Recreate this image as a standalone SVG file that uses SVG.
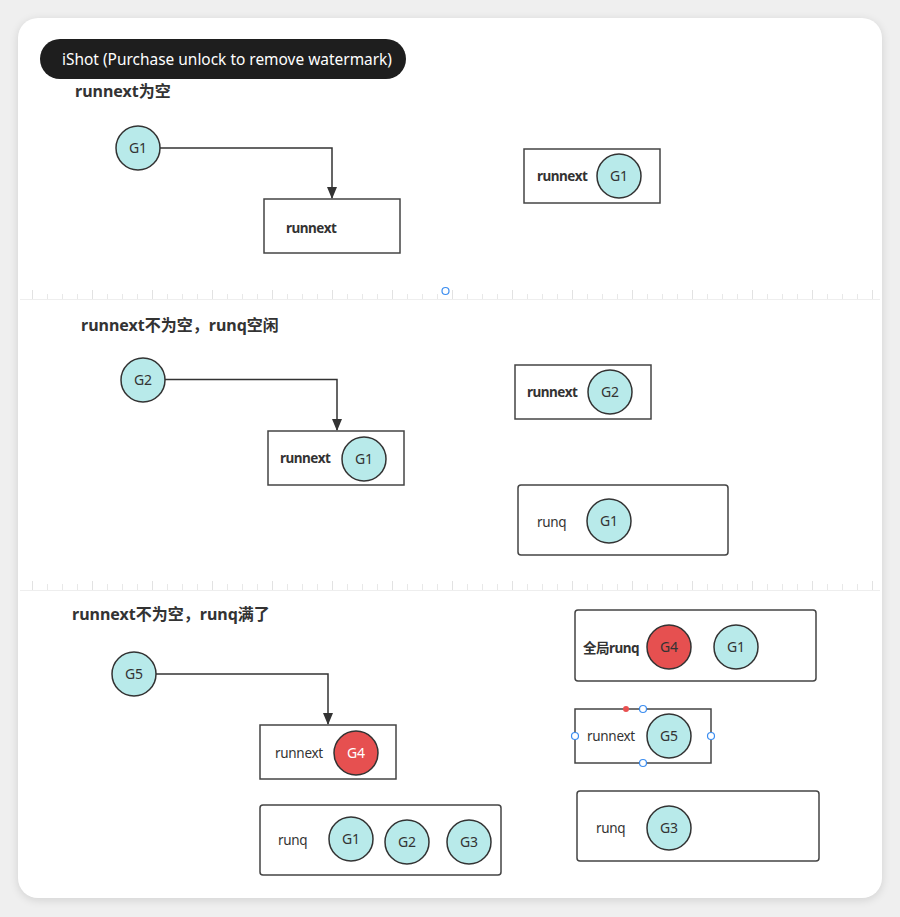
<svg xmlns="http://www.w3.org/2000/svg" width="900" height="917" viewBox="0 0 900 917">
<defs>
<filter id="sh" x="-5%" y="-5%" width="110%" height="110%"><feGaussianBlur stdDeviation="5"/></filter>
<marker id="arr" markerWidth="12" markerHeight="10" refX="11" refY="5" orient="auto" markerUnits="userSpaceOnUse" viewBox="0 0 12 10"><path d="M0,0 L12,5 L0,10 Z" fill="#333"/></marker>
<pattern id="ticks" x="32" y="0" width="60" height="10" patternUnits="userSpaceOnUse">
<line x1="0.5" y1="0" x2="0.5" y2="10" stroke="#e2e2e2"/>
<line x1="15.5" y1="4" x2="15.5" y2="10" stroke="#e8e8e8"/>
<line x1="30.5" y1="4" x2="30.5" y2="10" stroke="#e8e8e8"/>
<line x1="45.5" y1="4" x2="45.5" y2="10" stroke="#e8e8e8"/>
</pattern>
</defs>
<style>
.t{font-family:"Noto Sans","Noto Sans CJK SC",sans-serif;fill:#333}
.title{font-size:16px;font-weight:bold}
.lbl{font-size:13.5px;letter-spacing:-0.3px}
.b{font-weight:bold;letter-spacing:-0.5px}
.g{fill:#b8eaea;stroke:#333;stroke-width:1.5}
.r{fill:#e65050;stroke:#333;stroke-width:1.5}
.box{fill:#fff;stroke:#444;stroke-width:1.5}
.gt{font-family:"Noto Sans","Noto Sans CJK SC",sans-serif;font-size:14px;fill:#333;text-anchor:middle}
.wire{fill:none;stroke:#333;stroke-width:1.5}
.h{fill:#fff;stroke:#3b8df0;stroke-width:1.2}
</style>
<rect width="900" height="917" fill="#efefef"/>
<rect x="18" y="20" width="864" height="880" rx="20" fill="#000" opacity="0.12" filter="url(#sh)"/>
<rect x="18" y="18" width="864" height="880" rx="20" fill="#fff"/>
<rect x="20" y="290" width="860" height="10" fill="url(#ticks)"/>
<line x1="20" y1="299.5" x2="880" y2="299.5" stroke="#eeeeee"/>
<rect x="20" y="581" width="860" height="10" fill="url(#ticks)"/>
<line x1="20" y1="590.5" x2="880" y2="590.5" stroke="#eeeeee"/>
<circle cx="445.5" cy="291" r="3.5" class="h"/>

<g id="watermark">
<rect x="40" y="39" width="366" height="40" rx="20" fill="#1e1e1e"/>
<text x="62" y="65" font-family="Noto Sans, sans-serif" font-size="16" fill="#fff" textLength="330" lengthAdjust="spacingAndGlyphs">iShot (Purchase unlock to remove watermark)</text>
</g>

<text class="t title" x="75" y="97">runnext为空</text>
<text class="t title" x="81" y="331">runnext不为空，runq空闲</text>
<text class="t title" x="72" y="620">runnext不为空，runq满了</text>

<g id="connectors">
<path class="wire" d="M160,148 H332 V198" marker-end="url(#arr)"/>
<path class="wire" d="M165,379.5 H337 V430" marker-end="url(#arr)"/>
<path class="wire" d="M156,674 H328 V724" marker-end="url(#arr)"/>
</g>

<!-- section 1 -->
<g id="s1-g1"><circle class="g" cx="138" cy="148" r="22"/><text class="gt" x="138" y="153">G1</text></g>
<g id="s1-runnext"><rect class="box" x="264" y="199" width="136" height="54"/><text class="t lbl b" x="286" y="233">runnext</text></g>
<g id="s1-result"><rect class="box" x="524" y="149" width="136" height="54"/><text class="t lbl b" x="537" y="181">runnext</text>
<circle class="g" cx="619" cy="176" r="22"/><text class="gt" x="619" y="181">G1</text></g>

<!-- section 2 -->
<g id="s2-g2"><circle class="g" cx="143" cy="380" r="22"/><text class="gt" x="143" y="385">G2</text></g>
<g id="s2-runnext"><rect class="box" x="268" y="431" width="136" height="54"/><text class="t lbl b" x="280" y="463">runnext</text>
<circle class="g" cx="364" cy="459" r="22"/><text class="gt" x="364" y="464">G1</text></g>
<g id="s2-result-runnext"><rect class="box" x="515" y="365" width="136" height="54"/><text class="t lbl b" x="527" y="397">runnext</text>
<circle class="g" cx="610" cy="392" r="22"/><text class="gt" x="610" y="397">G2</text></g>
<g id="s2-result-runq"><rect class="box" x="518" y="485" width="210" height="70" rx="3"/><text class="t lbl" x="537" y="527">runq</text>
<circle class="g" cx="609" cy="521" r="22"/><text class="gt" x="609" y="526">G1</text></g>

<!-- section 3 -->
<g id="s3-g5"><circle class="g" cx="134" cy="674" r="22"/><text class="gt" x="134" y="679">G5</text></g>
<g id="s3-runnext"><rect class="box" x="260" y="725" width="136" height="54"/><text class="t lbl" x="275" y="758">runnext</text>
<circle class="r" cx="356" cy="753" r="22"/><text class="gt" x="356" y="758" style="fill:#fff">G4</text></g>
<g id="s3-runq"><rect class="box" x="260" y="805" width="241" height="70" rx="3"/><text class="t lbl" x="278" y="845">runq</text>
<circle class="g" cx="351" cy="839" r="22"/><text class="gt" x="351" y="844">G1</text>
<circle class="g" cx="407" cy="842" r="22"/><text class="gt" x="407" y="847">G2</text>
<circle class="g" cx="469" cy="842" r="22"/><text class="gt" x="469" y="847">G3</text></g>
<g id="s3-global"><rect class="box" x="575" y="610" width="241" height="71" rx="3"/><text class="t lbl b" x="583" y="653">全局runq</text>
<circle class="r" cx="669" cy="647" r="22"/><text class="gt" x="669" y="652">G4</text>
<circle class="g" cx="736" cy="647" r="22"/><text class="gt" x="736" y="652">G1</text></g>
<g id="s3-result-runnext"><rect class="box" x="575" y="709" width="136" height="54"/><text class="t lbl" x="587" y="741">runnext</text>
<circle class="g" cx="669" cy="736" r="22"/><text class="gt" x="669" y="741">G5</text>
<circle cx="626" cy="709" r="3" fill="#e85050"/>
<circle class="h" cx="643" cy="709" r="3.5"/><circle class="h" cx="575" cy="736" r="3.5"/>
<circle class="h" cx="711" cy="736" r="3.5"/><circle class="h" cx="643" cy="763" r="3.5"/></g>
<g id="s3-result-runq"><rect class="box" x="577" y="791" width="242" height="70" rx="3"/><text class="t lbl" x="596" y="833">runq</text>
<circle class="g" cx="669" cy="828" r="22"/><text class="gt" x="669" y="833">G3</text></g>
</svg>
